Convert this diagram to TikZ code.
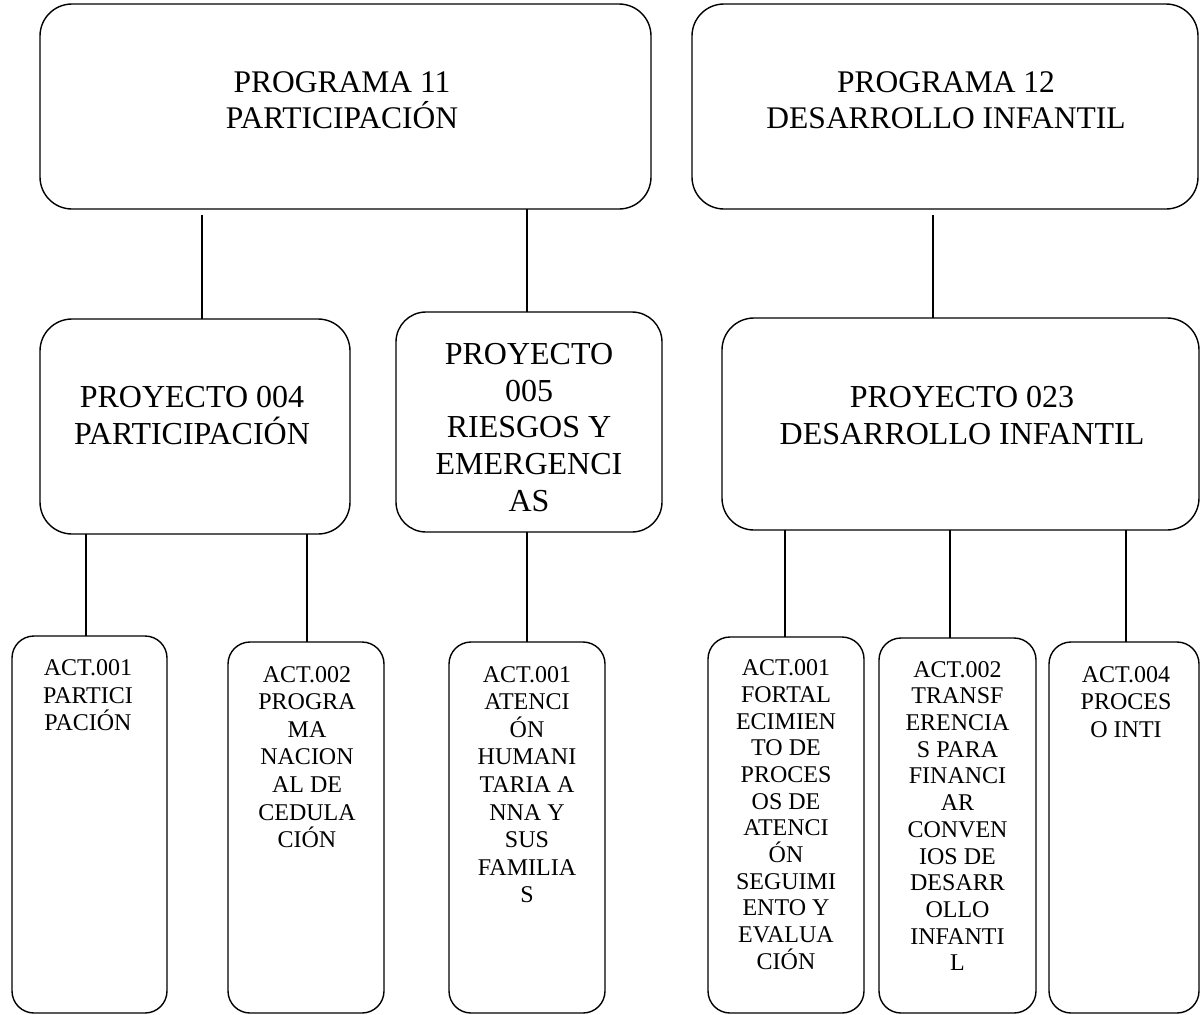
\documentclass[tikz,border=0pt]{standalone}
\usepackage{fontspec}
\setmainfont{Liberation Serif}
\begin{document}
\begin{tikzpicture}[x=1pt,y=-1pt,
  box/.style={draw=black, line width=1.4pt, rounded corners=#1, rectangle, inner sep=0pt, outer sep=0pt},
  box/.default=32pt,
  link/.style={draw=black, line width=1.4pt},
  bigtxt/.style={anchor=north, align=center, inner sep=0pt, font=\fontsize{31.5}{36}\selectfont},
  projtxt/.style={anchor=north, align=center, inner sep=0pt, font=\fontsize{32}{36.7}\selectfont},
  acttxt/.style={anchor=north, align=center, inner sep=0pt, font=\fontsize{24}{27.6}\selectfont},
  tightacttxt/.style={acttxt, font=\fontsize{24}{26.7}\selectfont}]
\useasboundingbox (0,0) rectangle (1200,1015);

% programmes
\node[box, minimum width=611, minimum height=205] (p11) at (345.5,106.5) {};
\node[box, minimum width=506, minimum height=205] (p12) at (945,106.5) {};
\node[bigtxt] (t11) at (342,71) {PROGRAMA 11\\PARTICIPACIÓN};
\node[bigtxt] (t12) at (946,71) {PROGRAMA 12\\DESARROLLO INFANTIL};

% projects
\node[box, minimum width=310, minimum height=215] (pj4) at (195,426.5) {};
\node[box=30pt, minimum width=266, minimum height=220] (pj5) at (529,422) {};
\node[box, minimum width=477, minimum height=212] (pj23) at (960.5,424) {};
\node[projtxt] (tj4) at (192,386.5) {PROYECTO 004\\PARTICIPACIÓN};
\node[projtxt] (tj5) at (529,343) {PROYECTO\\005\\RIESGOS Y\\EMERGENCI\\AS};
\node[projtxt] (tj23) at (962,386.5) {PROYECTO 023\\DESARROLLO INFANTIL};

% activities
\node[box=22pt, minimum width=155, minimum height=377] (a1) at (89.5,824.5) {};
\node[box=22pt, minimum width=156, minimum height=371] (a2) at (306,827.5) {};
\node[box=22pt, minimum width=156, minimum height=371] (a3) at (527,827.5) {};
\node[box=22pt, minimum width=156, minimum height=376] (a4) at (786,825) {};
\node[box=22pt, minimum width=157, minimum height=375] (a5) at (957.5,825.5) {};
\node[box=22pt, minimum width=150, minimum height=371] (a6) at (1124,827.5) {};
\node[acttxt] (ta1) at (88,659.5) {ACT.001\\PARTICI\\PACIÓN};
\node[acttxt] (ta2) at (307,666) {ACT.002\\PROGRA\\MA\\NACION\\AL DE\\CEDULA\\CIÓN};
\node[acttxt] (ta3) at (527,666) {ACT.001\\ATENCI\\ÓN\\HUMANI\\TARIA A\\NNA Y\\SUS\\FAMILIA\\S};
\node[tightacttxt] (ta4) at (786,659.5) {ACT.001\\FORTAL\\ECIMIEN\\TO DE\\PROCES\\OS DE\\ATENCI\\ÓN\\SEGUIMI\\ENTO Y\\EVALUA\\CIÓN};
\node[tightacttxt] (ta5) at (957.5,661) {ACT.002\\TRANSF\\ERENCIA\\S PARA\\FINANCI\\AR\\CONVEN\\IOS DE\\DESARR\\OLLO\\INFANTI\\L};
\node[acttxt] (ta6) at (1126,666) {ACT.004\\PROCES\\O INTI};

% connector columns
\coordinate (c1) at (202,0);
\coordinate (c2) at (527,0);
\coordinate (c3) at (933,0);
\coordinate (c4) at (86,0);
\coordinate (c5) at (307,0);
\coordinate (c6) at (785,0);
\coordinate (c7) at (950,0);
\coordinate (c8) at (1126,0);

\draw[link] ([yshift=-6pt]p11.south -| c1) -- (pj4.north -| c1);
\draw[link] (p11.south -| c2) -- (pj5.north -| c2);
\draw[link] ([yshift=-6pt]p12.south -| c3) -- (pj23.north -| c3);
\draw[link] (pj4.south -| c4) -- (a1.north -| c4);
\draw[link] (pj4.south -| c5) -- (a2.north -| c5);
\draw[link] (pj5.south -| c2) -- (a3.north -| c2);
\draw[link] (pj23.south -| c6) -- (a4.north -| c6);
\draw[link] (pj23.south -| c7) -- (a5.north -| c7);
\draw[link] (pj23.south -| c8) -- (a6.north -| c8);
\end{tikzpicture}
\end{document}
